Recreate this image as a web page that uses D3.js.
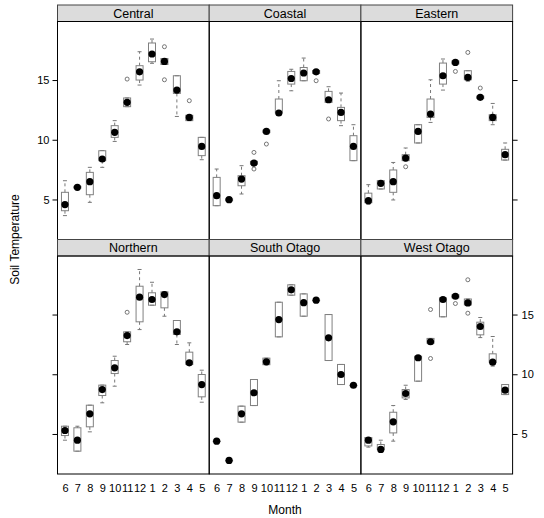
<!DOCTYPE html>
<html><head><meta charset="utf-8">
<script src="https://cdn.jsdelivr.net/npm/d3@7"></script>
<style>body{margin:0;background:#fff}svg{display:block}text{font-family:"Liberation Sans",Arial,sans-serif}</style>
</head><body>
<script>
const regions = ["Central","Coastal","Eastern","Northern","South Otago","West Otago"];
const months = ["6","7","8","9","10","11","12","1","2","3","4","5"];
const yTicks = [5,10,15];

const medians = [
 [4.57,6.02,6.49,8.39,10.62,13.13,15.69,17.18,16.56,14.16,11.87,9.44],
 [5.32,4.98,6.71,8.05,10.7,12.24,15.13,15.59,15.69,13.35,12.29,9.44],
 [4.9,6.35,6.49,8.47,10.7,12.15,15.36,16.47,15.22,13.55,11.87,8.75],
 [5.29,4.48,6.69,8.72,10.54,13.24,16.45,16.26,16.67,13.55,10.96,9.14],
 [4.4,2.79,6.69,8.45,11.04,14.58,17.07,15.99,16.2,13.05,9.98,9.08],
 [4.48,3.71,6.02,8.39,11.38,12.72,16.26,16.53,15.97,14.0,11.01,8.67]
];
const lowerHinge = [
 [4.06,5.95,5.4,8.25,10.2,12.77,15.0,16.53,16.3,13.88,11.6,8.67],
 [4.48,4.9,6.15,7.95,10.6,12.24,14.66,14.94,15.55,13.13,11.6,8.25],
 [4.73,5.88,5.6,8.25,9.73,11.87,14.66,16.35,15.02,13.45,11.6,8.3],
 [4.87,3.56,5.6,8.22,10.06,12.72,14.39,15.78,15.56,13.33,10.82,8.11],
 [4.4,2.79,5.99,7.38,10.8,13.13,16.62,14.86,16.2,11.15,9.14,9.08],
 [4.0,3.71,5.09,8.02,9.42,12.6,14.81,16.4,15.8,13.3,11.01,8.3]
];
const upperHinge = [
 [5.6,6.1,7.27,9.08,11.18,13.5,16.2,18.1,16.8,15.36,12.05,10.2],
 [6.85,5.05,6.99,8.2,10.8,13.41,15.72,16.05,15.8,14.05,12.71,10.34],
 [5.53,6.58,7.47,8.75,11.26,13.41,16.42,16.6,15.78,13.65,12.1,9.2],
 [5.65,5.52,7.41,9.09,11.15,13.55,17.37,16.82,16.9,14.5,11.85,9.98],
 [4.4,2.79,7.33,9.56,11.35,16.03,17.49,16.73,16.2,15.0,10.82,9.08],
 [4.7,4.12,6.82,8.72,11.51,13.0,16.4,16.65,16.3,14.36,11.71,9.14]
];
const whiskerLow = [
 [3.65,5.95,4.76,7.69,9.86,12.77,14.58,16.4,16.3,11.95,11.6,8.33],
 [4.48,4.9,5.46,7.95,10.6,12.24,14.1,14.94,15.55,13.13,11.18,8.25],
 [4.6,5.88,4.96,8.25,9.73,11.45,14.16,16.35,14.9,13.45,11.26,8.3],
 [4.48,3.56,5.18,7.61,9.0,12.49,13.74,15.78,14.86,12.49,10.82,7.66],
 [4.4,2.79,5.99,7.38,10.8,13.13,16.62,14.86,16.2,11.15,9.14,9.08],
 [3.9,3.71,4.4,7.89,9.42,12.6,14.81,16.4,15.8,13.07,10.68,8.3]
];
const whiskerHigh = [
 [6.57,6.1,7.69,9.1,11.6,13.5,17.37,18.43,16.8,15.36,12.05,10.2],
 [7.55,5.05,7.83,8.2,10.8,14.94,15.9,16.84,15.8,14.44,13.91,11.26],
 [6.24,6.58,8.1,9.31,11.26,15.02,16.76,16.6,15.78,13.65,13.04,9.73],
 [5.65,5.65,7.41,9.09,11.51,13.55,18.77,17.7,16.9,14.5,12.63,10.34],
 [4.4,2.79,7.33,9.56,11.35,16.03,17.49,16.73,16.2,15.0,10.82,9.08],
 [4.7,4.48,7.38,9.08,11.51,13.0,16.4,16.65,16.3,14.75,13.16,9.14]
];
const outliers = [
 ["Central","11",15.08],["Central","2",17.79],["Central","2",15.02],["Central","4",13.27],
 ["Coastal","9",8.94],["Coastal","9",7.55],["Coastal","10",9.64],["Coastal","2",14.94],["Coastal","3",11.74],
 ["Eastern","9",7.74],["Eastern","1",15.72],["Eastern","2",17.31],["Eastern","3",14.33],
 ["Northern","11",15.19],
 ["West Otago","11",15.42],["West Otago","11",11.32],["West Otago","1",15.92],["West Otago","2",17.91],["West Otago","2",15.11]
];

const W = 544, H = 518;
const left = 57.5, panelW = 151.7, stripH = 16.5, panelH = 218;
const rowTop = [5, 239.5];
const svg = d3.select("body").append("svg").attr("width", W).attr("height", H);

const x = d3.scalePoint().domain(months).range([0, panelW]).padding(0.6);
const y = d3.scaleLinear().domain([1.65, 19.9]).range([panelH, 0]);
const boxW = 7, capW = 4;

regions.forEach((reg, ri) => {
  const col = ri % 3, row = Math.floor(ri / 3);
  const px = left + col * panelW;
  const sy = rowTop[row], py = sy + stripH;
  // strip
  svg.append("rect").attr("x", px).attr("y", sy).attr("width", panelW).attr("height", stripH)
    .attr("fill", "#dcdcdc").attr("stroke", "#444").attr("stroke-width", 1);
  svg.append("text").attr("x", px + panelW / 2).attr("y", sy + stripH / 2 + 4.5)
    .attr("text-anchor", "middle").attr("font-size", 12.5).attr("fill", "#000").text(reg);

  const g = svg.append("g").attr("transform", `translate(${px},${py})`);
  g.append("rect").attr("width", panelW).attr("height", panelH)
    .attr("fill", "none").attr("stroke", "#000").attr("stroke-width", 1);

  months.forEach((m, mi) => {
    const cx = x(m);
    const q1 = lowerHinge[ri][mi], q3 = upperHinge[ri][mi];
    const lo = whiskerLow[ri][mi], hi = whiskerHigh[ri][mi];
    // whiskers
    g.append("line").attr("x1", cx).attr("x2", cx).attr("y1", y(q3)).attr("y2", y(hi))
      .attr("stroke", "#777").attr("stroke-dasharray", "3,3");
    g.append("line").attr("x1", cx).attr("x2", cx).attr("y1", y(q1)).attr("y2", y(lo))
      .attr("stroke", "#777").attr("stroke-dasharray", "3,3");
    [lo, hi].forEach(v => {
      g.append("line").attr("x1", cx - capW / 2).attr("x2", cx + capW / 2)
        .attr("y1", y(v)).attr("y2", y(v)).attr("stroke", "#777");
    });
    // box
    g.append("rect").attr("x", cx - boxW / 2).attr("y", y(q3))
      .attr("width", boxW).attr("height", Math.max(0.5, y(q1) - y(q3)))
      .attr("fill", "none").attr("stroke", "#808080").attr("stroke-width", 1);
  });

  outliers.filter(o => o[0] === reg).forEach(o => {
    g.append("circle").attr("cx", x(o[1])).attr("cy", y(o[2])).attr("r", 2)
      .attr("fill", "none").attr("stroke", "#555").attr("stroke-width", 0.8);
  });

  months.forEach((m, mi) => {
    g.append("circle").attr("cx", x(m)).attr("cy", y(medians[ri][mi])).attr("r", 3.6).attr("fill", "#000");
  });

  // axes
  const clean = a => { a.select(".domain").remove(); a.selectAll("text").attr("font-size", 11).attr("fill", "#000"); a.selectAll("line").attr("stroke", "#000"); };
  if (row === 0 && col === 0) g.append("g").call(d3.axisLeft(y).tickValues(yTicks).tickSize(5).tickPadding(3)).call(clean);
  if (row === 0 && col === 2) g.append("g").attr("transform", `translate(${panelW},0)`).call(d3.axisRight(y).tickValues(yTicks).tickSize(5).tickFormat("")).call(clean);
  if (row === 1 && col === 0) g.append("g").call(d3.axisLeft(y).tickValues(yTicks).tickSize(5).tickFormat("")).call(clean);
  if (row === 1 && col === 2) g.append("g").attr("transform", `translate(${panelW},0)`).call(d3.axisRight(y).tickValues(yTicks).tickSize(5).tickPadding(4)).call(clean);
  if (row === 1) g.append("g").attr("transform", `translate(0,${panelH})`).call(d3.axisBottom(x).tickSize(0).tickPadding(10)).call(clean);
});

svg.append("text").attr("transform", `translate(19,${(5 + 474) / 2}) rotate(-90)`)
  .attr("text-anchor", "middle").attr("font-size", 12).text("Soil Temperature");
svg.append("text").attr("x", left + 1.5 * panelW).attr("y", 514)
  .attr("text-anchor", "middle").attr("font-size", 12).text("Month");
</script>
</body></html>
